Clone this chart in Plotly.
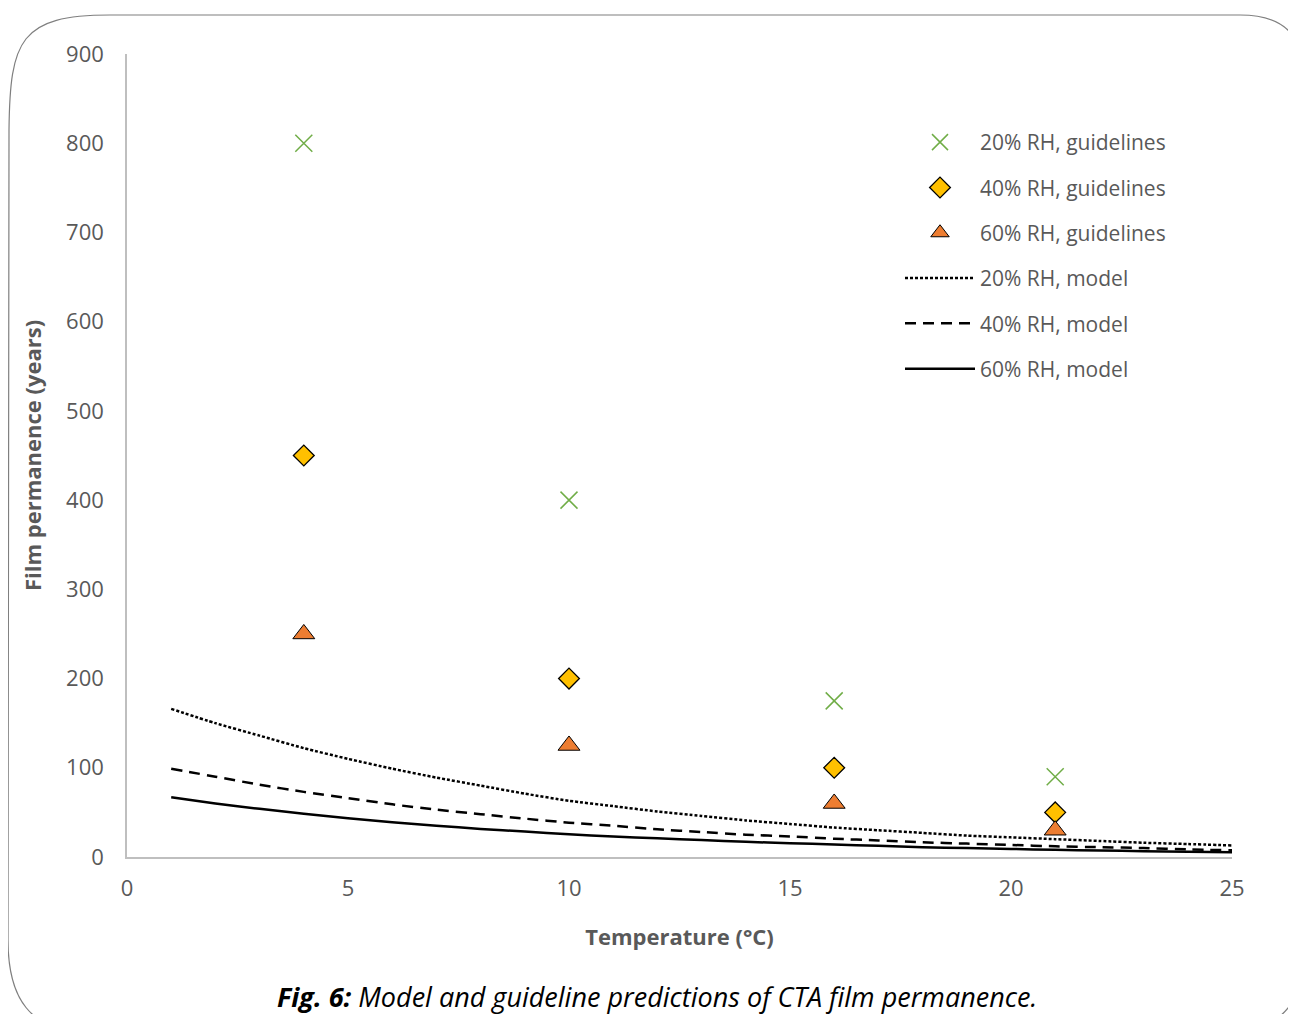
import plotly.graph_objects as go

# ---- data ----
guide_temp = [4, 10, 16, 21]
guide_20 = [800, 400, 175, 90]
guide_40 = [450, 200, 100, 50]
guide_60 = [250, 125, 60, 30]

model_temp = [1, 2, 3, 4, 5, 6, 7, 8, 9, 10, 11, 12, 13, 14, 15, 16, 17, 18, 19, 20, 21, 22, 23, 24, 25]
model_20 = [166, 150, 136, 122, 110, 99, 89, 80, 71, 63, 57, 51, 46, 41, 37, 33, 30, 27, 24, 22, 20, 18, 16, 14.5, 13]
model_40 = [99, 90, 81, 73, 66, 59, 53, 48, 43, 38.5, 35, 31, 28, 25, 23, 20.5, 18.5, 16.5, 15, 13.5, 12, 11, 10, 8.5, 7.5]
model_60 = [67, 60, 54, 48.5, 43.5, 39, 35, 31.5, 28.5, 25.5, 23, 21, 19, 17, 15.5, 14, 12.5, 11, 10, 9, 8, 7.3, 6.5, 5.8, 5.2]

x_ticks = [0, 5, 10, 15, 20, 25]
y_ticks = [0, 100, 200, 300, 400, 500, 600, 700, 800, 900]

FONT = "Open Sans"
GRAY = "#595959"

fig = go.Figure()
fig.add_trace(go.Scatter(x=guide_temp, y=guide_20, mode="markers", name="20% RH, guidelines",
                         legendgroup="a",
                         marker=dict(symbol="x-thin", size=17, line=dict(color="#70ad47", width=1.5), color="#70ad47")))
fig.add_trace(go.Scatter(x=guide_temp, y=guide_40, mode="markers", name="40% RH, guidelines",
                         legendgroup="b",
                         marker=dict(symbol="diamond", size=16, color="#ffc000", line=dict(color="black", width=1.3))))
fig.add_trace(go.Scatter(x=guide_temp, y=guide_60, mode="markers", name="60% RH, guidelines",
                         legendgroup="c",
                         marker=dict(symbol="triangle-up", size=19, color="#ed7d31", line=dict(color="black", width=1))))
fig.add_trace(go.Scatter(x=model_temp, y=model_20, mode="lines", name="20% RH, model", legendgroup="d",
                         line=dict(color="black", width=2.5, dash="3px,2px", shape="spline", smoothing=0.6)))
fig.add_trace(go.Scatter(x=model_temp, y=model_40, mode="lines", name="40% RH, model", legendgroup="e",
                         line=dict(color="black", width=2.5, dash="11px,7px", shape="spline", smoothing=0.6)))
fig.add_trace(go.Scatter(x=model_temp, y=model_60, mode="lines", name="60% RH, model", legendgroup="f",
                         line=dict(color="black", width=2.5, shape="spline", smoothing=0.6)))

# plot-area geometry (page pixels); the page body adds an 8px offset
OFF = 8
L, R, T, B = 127, 1232, 54, 857
W, H = 1296 - OFF, 1014 - OFF
def px(x):
    return (x - L) / (R - L)
def py(y):
    return (B - y) / (B - T)

frame = (f"M {px(9)},{py(130)} C {px(10)},{py(40)} {px(20)},{py(15)} {px(110)},{py(15)} "
         f"L {px(1240)},{py(15)} Q {px(1302)},{py(15)} {px(1302)},{py(70)} "
         f"L {px(1302)},{py(960)} Q {px(1302)},{py(1030)} {px(1230)},{py(1030)} "
         f"L {px(80)},{py(1030)} Q {px(8)},{py(1030)} {px(8)},{py(940)} Z")

fig.update_layout(
    width=W, height=H,
    margin=dict(l=L - OFF, r=W - (R - OFF), t=T - OFF, b=H - (B - OFF)),
    paper_bgcolor="white", plot_bgcolor="white",
    font=dict(family=FONT, color=GRAY, size=20),
    showlegend=True,
    legend=dict(x=px(900), y=py(122), xanchor="left", yanchor="top",
                font=dict(family=FONT, size=21, color=GRAY),
                tracegroupgap=15, itemwidth=70, bgcolor="rgba(0,0,0,0)"),
    xaxis=dict(range=[0, 25], tickvals=x_ticks, showgrid=False, zeroline=False,
               showline=True, linecolor="#bfbfbf", linewidth=1.5, ticks="",
               ticklabelstandoff=11,
               tickfont=dict(family=FONT, size=22, color=GRAY),
               title=dict(text="<b>Temperature (°C)</b>", font=dict(family=FONT, size=22, color=GRAY), standoff=28)),
    yaxis=dict(range=[0, 900], tickvals=y_ticks, showgrid=False, zeroline=False,
               showline=True, linecolor="#bfbfbf", linewidth=1.5, ticks="",
               ticklabelstandoff=17,
               tickfont=dict(family=FONT, size=22, color=GRAY),
               title=dict(text="<b>Film permanence (years)</b>", font=dict(family=FONT, size=22, color=GRAY), standoff=18)),
    shapes=[dict(type="path", xref="paper", yref="paper", path=frame,
                 line=dict(color="#7f7f7f", width=1.2), fillcolor="rgba(0,0,0,0)", layer="below")],
    annotations=[dict(text="<b><i>Fig. 6:</i></b><i> Model and guideline predictions of CTA film permanence.</i>",
                      xref="paper", yref="paper", x=px(657), y=py(996), xanchor="center", yanchor="middle",
                      showarrow=False, font=dict(family=FONT, size=27, color="black"))],
)

fig.write_html("out.html")
